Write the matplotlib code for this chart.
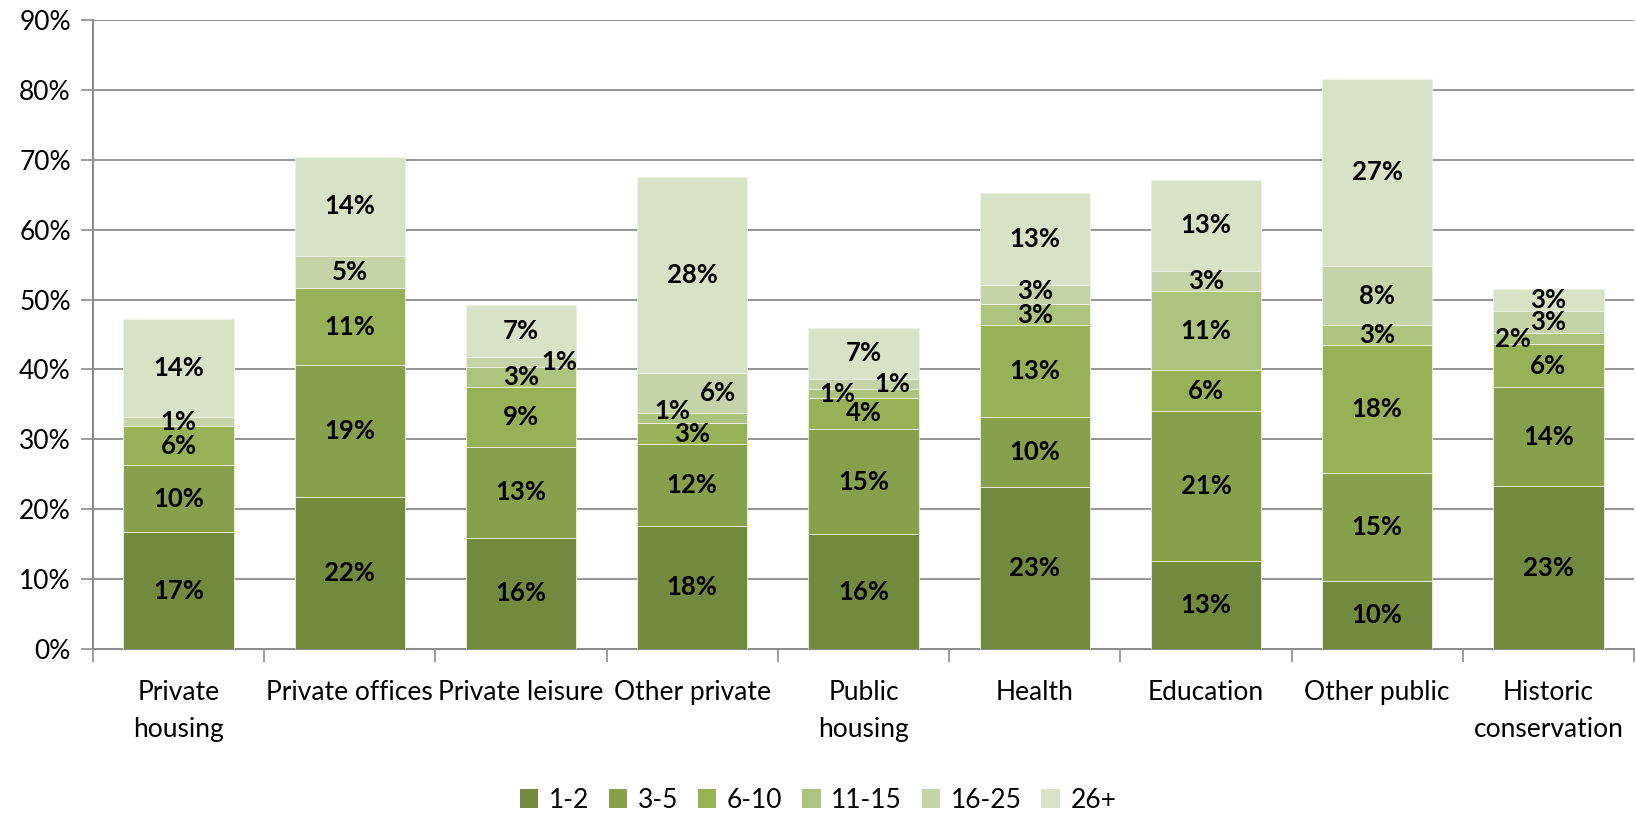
import numpy as np
import matplotlib.pyplot as plt
from matplotlib.patches import Patch
from matplotlib.ticker import FuncFormatter, MultipleLocator

categories = ["Private\nhousing", "Private offices", "Private leisure", "Other private",
              "Public\nhousing", "Health", "Education", "Other public", "Historic\nconservation"]
series = ["1-2", "3-5", "6-10", "11-15", "16-25", "26+"]

# share (%) per size band, one list per band, in category order
s_1_2   = [16.7, 21.8, 15.9, 17.6, 16.4, 23.2, 12.6,  9.8, 23.3]
s_3_5   = [ 9.6, 18.8, 13.0, 11.7, 15.1, 10.0, 21.4, 15.4, 14.2]
s_6_10  = [ 5.6, 11.0,  8.6,  3.0,  4.4, 13.2,  5.9, 18.3,  6.1]
s_11_15 = [ 0.0,  0.0,  2.9,  1.4,  1.3,  2.9, 11.3,  2.8,  1.6]
s_16_25 = [ 1.3,  4.7,  1.4,  5.8,  1.4,  2.8,  2.9,  8.5,  3.1]
s_26    = [14.0, 14.1,  7.4, 28.1,  7.4, 13.1, 13.0, 26.8,  3.2]

colors = ["#728a3e", "#86a04b", "#97b256", "#adc47e", "#c4d4a8", "#d8e2c6"]

# labels moved by hand in the original chart (pixels, x right / y up)
label_shift = {(2, 4): (38, 0), (3, 3): (-20, 7), (3, 4): (26, 0),
               (4, 3): (-26, 0), (4, 4): (29, 0), (5, 4): (0, 4), (8, 3): (-35, 0)}

plt.rcParams['font.family'] = ['Lato', 'DejaVu Sans']

data = np.array([s_1_2, s_3_5, s_6_10, s_11_15, s_16_25, s_26]) / 100.0
x = np.arange(len(categories))

fig = plt.figure(figsize=(16.36, 8.13), dpi=100)
ax = fig.add_axes([93/1636, 1 - 649/813, 1541/1636, 629/813])

bottom = np.zeros(len(categories))
for i in range(len(series)):
    ax.bar(x, data[i], 0.645, bottom=bottom, color=colors[i],
           edgecolor='#eef2e6', linewidth=0.6, zorder=3)
    for j in range(len(categories)):
        v = data[i][j]
        if v <= 0:
            continue
        dx, dy = label_shift.get((j, i), (0, 0))
        ax.annotate("%d%%" % round(v * 100), (x[j], bottom[j] + v / 2),
                    xytext=(dx * 0.72, dy * 0.72), textcoords='offset points',
                    ha='center', va='center', fontsize=18.5, fontweight='bold',
                    color='black', zorder=4)
    bottom += data[i]

ax.set_xlim(-0.5, len(categories) - 0.5)
ax.set_ylim(0, 0.9)
ax.yaxis.set_major_locator(MultipleLocator(0.1))
ax.yaxis.set_major_formatter(FuncFormatter(lambda v, p: "%d%%" % round(v * 100)))
ax.grid(axis='y', color='#8c8c8c', linewidth=1.3, zorder=0)

ax.set_xticks(x)
ax.set_xticklabels(categories, fontsize=19, linespacing=1.6)
ax.set_xticks(np.arange(-0.5, len(categories)), minor=True)
ax.tick_params(axis='x', which='major', length=0, pad=22)
ax.tick_params(axis='x', which='minor', length=9, color='#8c8c8c', width=1.2)
ax.tick_params(axis='y', length=9, color='#8c8c8c', width=1.2, labelsize=19, pad=7)

for side in ['top', 'right']:
    ax.spines[side].set_visible(False)
for side in ['left', 'bottom']:
    ax.spines[side].set_color('#8c8c8c')
    ax.spines[side].set_linewidth(1.5)

handles = [Patch(facecolor=c, edgecolor='none') for c in colors]
fig.legend(handles, series, loc='center', bbox_to_anchor=(0.5, 1 - 800/813), ncol=6,
           frameon=False, fontsize=19, handlelength=0.7, handleheight=0.7,
           handletextpad=0.4, columnspacing=0.75)

fig.savefig("out.png", dpi=100)
